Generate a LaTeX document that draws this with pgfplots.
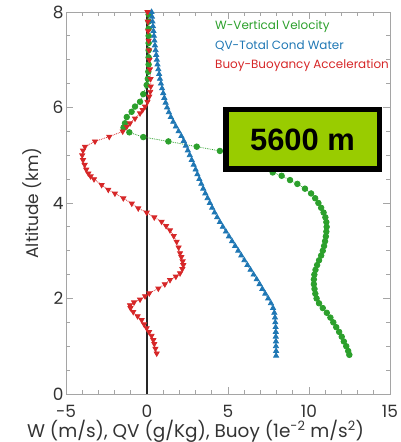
\documentclass[border=0pt]{standalone}
\usepackage{fontspec}
\setmainfont{Poppins}
\newfontfamily\arial{Liberation Sans}
\usepackage{pgfplots}
\pgfplotsset{compat=1.18}
\definecolor{cg}{RGB}{44,160,44}
\definecolor{cb}{RGB}{31,119,180}
\definecolor{cr}{RGB}{214,39,40}
\definecolor{lime}{RGB}{153,204,0}
\definecolor{fr}{RGB}{165,165,165}
\begin{document}
\begin{tikzpicture}
\begin{axis}[
 scale only axis, width=324bp, height=382bp,
 xmin=-5, xmax=15, ymin=0, ymax=8,
 xtick={-5,0,5,10,15}, xticklabels={-5,0,5,10,15},
 ytick={0,2,4,6,8}, yticklabels={0,2,4,6,8},
 minor x tick num=4, minor y tick num=3,
 axis line style={fr, line width=0.8pt},
 tick style={fr, line width=0.8pt},
 major tick length=7bp, minor tick length=4bp,
 tick label style={font=\fontsize{17}{17}\selectfont, text=black!80},
 xticklabel style={yshift=-8bp},
 yticklabel style={xshift=1bp},
 xlabel={W (m/s), QV (g/Kg), Buoy (1e\textsuperscript{-2} m/s\textsuperscript{2})},
 xlabel style={at={(rel axis cs:0.4,0)}, anchor=base, yshift=-43bp, font=\fontsize{18.5}{18.5}\selectfont, text=black!80},
 ylabel={Altitude (km)},
 ylabel style={at={(axis description cs:-0.105,0.5)}, anchor=center, font=\fontsize{17}{17}\selectfont, text=black!80},
 clip=false,
]
\addplot[black!85, line width=1.2bp] coordinates {(0,0) (0,8)};
% W - vertical velocity
\addplot[cg, densely dotted, line width=0.8pt, mark=*, mark size=2.8pt, mark options={solid, draw=cg, fill=cg}] coordinates {
(12.49,0.82) (12.42,0.9) (12.30,1.0) (12.15,1.1) (12.02,1.2) (11.86,1.3) (11.68,1.4) (11.50,1.5) (11.32,1.6) (11.10,1.7) (10.85,1.8) (10.62,1.9) (10.47,2.0) (10.39,2.1) (10.34,2.2) (10.30,2.3) (10.30,2.4) (10.33,2.5) (10.40,2.6) (10.50,2.7) (10.62,2.8) (10.75,2.9) (10.85,3.0) (10.93,3.1) (10.99,3.2) (11.04,3.3) (11.07,3.4) (11.09,3.5) (11.07,3.6) (11.01,3.7) (10.90,3.8) (10.75,3.9) (10.58,4.0) (10.38,4.1) (10.13,4.2) (9.75,4.3) (9.28,4.4) (8.83,4.48) (8.31,4.57) (7.76,4.64) (6.95,4.75) (5.9,4.92) (4.5,5.09) (3.07,5.18) (1.32,5.29) (-0.23,5.38) (-1.09,5.48) (-1.45,5.58) (-1.36,5.67) (-1.25,5.8) (-0.95,5.91) (-0.74,6.02) (-0.43,6.12) (-0.23,6.28) (-0.02,6.47) (0.05,6.6) (0.08,6.75) (0.1,6.9) (0.1,7.05) (0.1,7.2) (0.1,7.35) (0.1,7.5) (0.1,7.65) (0.1,7.8) (0.1,7.95)
};
% QV - total condensed water
\addplot[cb, densely dotted, line width=0.8pt, mark=triangle*, mark size=2.9pt, mark options={solid, draw=cb, fill=cb}] coordinates {
(7.97,0.8) (7.97,0.9) (7.96,1.0) (7.96,1.1) (7.95,1.2) (7.95,1.3) (7.94,1.4) (7.92,1.5) (7.90,1.6) (7.86,1.7) (7.78,1.8) (7.65,1.9) (7.48,2.0) (7.30,2.1) (7.12,2.2) (6.95,2.3) (6.77,2.4) (6.58,2.5) (6.39,2.6) (6.20,2.7) (6.01,2.8) (5.82,2.9) (5.63,3.0) (5.44,3.1) (5.25,3.2) (5.06,3.3) (4.87,3.4) (4.68,3.5) (4.50,3.6) (4.33,3.7) (4.17,3.8) (4.02,3.9) (3.88,4.0) (3.74,4.1) (3.60,4.2) (3.47,4.3) (3.35,4.4) (3.23,4.5) (3.11,4.6) (3.00,4.7) (2.88,4.8) (2.76,4.9) (2.64,5.0) (2.52,5.1) (2.40,5.2) (2.27,5.3) (2.12,5.4) (1.95,5.5) (1.78,5.6) (1.62,5.7) (1.47,5.8) (1.35,5.9) (1.24,6.0) (1.15,6.1) (1.07,6.2) (1.00,6.3) (0.93,6.4) (0.86,6.5) (0.80,6.6) (0.75,6.7) (0.70,6.8) (0.65,6.9) (0.61,7.0) (0.57,7.1) (0.53,7.2) (0.49,7.3) (0.46,7.4) (0.43,7.5) (0.40,7.6) (0.37,7.7) (0.34,7.8) (0.31,7.9) (0.28,8.0)
};
% Buoy - buoyancy acceleration
\addplot[cr, densely dotted, line width=0.8pt, mark=triangle*, mark size=2.9pt, mark options={solid, rotate=180, draw=cr, fill=cr}] coordinates {
(0.60,0.85) (0.52,0.95) (0.45,1.05) (0.39,1.13) (0.28,1.22) (0.13,1.30) (-0.02,1.38) (-0.18,1.46) (-0.33,1.55) (-0.58,1.63) (-0.85,1.72) (-1.02,1.80) (-1.05,1.86) (-0.80,1.92) (-0.43,1.98) (-0.12,2.05) (0.14,2.11) (0.70,2.21) (1.10,2.30) (1.42,2.39) (1.78,2.46) (2.04,2.53) (2.18,2.62) (2.24,2.70) (2.20,2.78) (2.12,2.87) (2.04,2.95) (1.95,3.07) (1.83,3.19) (1.65,3.31) (1.42,3.43) (1.18,3.52) (0.90,3.61) (0.45,3.70) (-0.02,3.80) (-0.54,3.89) (-0.94,3.99) (-1.46,4.10) (-1.98,4.20) (-2.39,4.28) (-2.80,4.38) (-3.27,4.50) (-3.48,4.56) (-3.62,4.62) (-3.75,4.70) (-3.85,4.80) (-3.95,4.90) (-4.00,5.00) (-3.95,5.10) (-3.83,5.18) (-3.21,5.29) (-2.33,5.39) (-1.50,5.50) (-1.25,5.60) (-1.05,5.67) (-0.74,5.77) (-0.43,5.88) (-0.27,5.95) (-0.12,6.02) (0.03,6.12) (0.14,6.23) (0.20,6.33) (0.23,6.44) (0.22,6.60) (0.18,6.80) (0.15,7.00) (0.12,7.20) (0.10,7.40) (0.07,7.60) (0.05,7.80) (0.03,8.00)
};
\end{axis}
\begin{scope}
\clip (0,0) rectangle (324bp,382bp);
\node[anchor=west, text=cg, font=\fontsize{12}{12}\selectfont, inner sep=0] at (149bp,368bp) {W-Vertical Velocity};
\node[anchor=west, text=cb, font=\fontsize{12}{12}\selectfont, inner sep=0] at (149bp,348.3bp) {QV-Total Cond Water};
\node[anchor=west, text=cr, font=\fontsize{12}{12}\selectfont, inner sep=0] at (149bp,329bp) {Buoy-Buoyancy Acceleration};
\end{scope}
\node[draw=black, line width=5.5bp, fill=lime, minimum width=153.5bp, minimum height=59.5bp, inner sep=0, font=\arial\bfseries\fontsize{31}{31}\selectfont] at (236.5bp,254.5bp) {5600 m};
\pgfresetboundingbox
\path[use as bounding box] (-66bp,-48bp) rectangle (335bp,394bp);
\end{tikzpicture}
\end{document}
